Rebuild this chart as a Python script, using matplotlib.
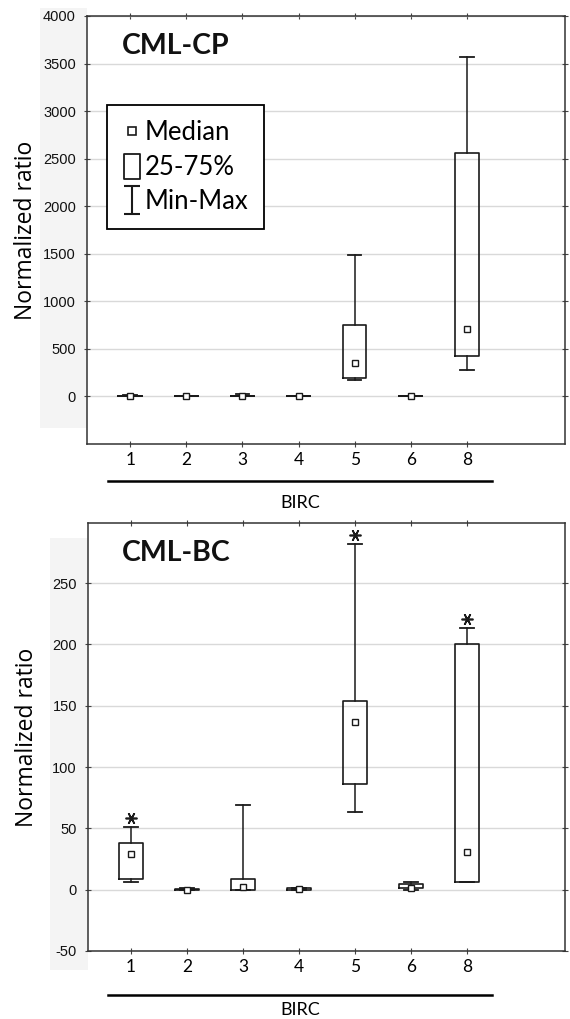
import matplotlib
matplotlib.use("Agg")
import matplotlib.pyplot as plt
import matplotlib.transforms as mtransforms
from matplotlib.path import Path
from matplotlib.lines import Line2D
from matplotlib.patches import Rectangle

# categories (BIRC family members)
birc = ["1", "2", "3", "4", "5", "6", "8"]

# CML-CP  (median, q1, q3, min, max)
cp_med = [2, 0, 3, 0, 349, 0, 713]
cp_q1 = [0, 0, 0, 0, 189, 0, 420]
cp_q3 = [8, 2, 8, 4, 748, 1, 2559]
cp_min = [0, 0, 0, 0, 171, 0, 276]
cp_max = [15, 3, 25, 6, 1489, 2, 3566]
cp_star = [False] * 7

# CML-BC
bc_med = [29, 0, 2, 0.5, 137, 1, 31]
bc_q1 = [9, 0, 0, 0, 86, 1, 6]
bc_q3 = [38, 0.5, 9, 1, 154, 5, 200]
bc_min = [6, 0, 0, 0, 63, 0, 6]
bc_max = [51, 1, 69, 1.5, 282, 6, 213]
bc_star = [True, False, False, False, True, False, True]

W, H = 570, 1019
fig = plt.figure(figsize=(W / 100, H / 100), dpi=100)

# faint grey band behind the y tick labels
fig.add_artist(Rectangle((40 / W, 1 - 428 / H), 47 / W, 420 / H, transform=fig.transFigure,
                         facecolor="#f4f4f4", edgecolor="none", zorder=0))
fig.add_artist(Rectangle((50 / W, 1 - 970 / H), 38 / W, 432 / H, transform=fig.transFigure,
                         facecolor="#f4f4f4", edgecolor="none", zorder=0))

cal = ["Lato", "DejaVu Sans"]
dark = "#1a1a1a"


def panel(rect, title, med, q1, q3, lo, hi, star, ylim, yticks, line_y, birc_y):
    ax = fig.add_axes(rect)
    stats = []
    for i in range(len(birc)):
        stats.append(dict(med=med[i], q1=q1[i], q3=q3[i], whislo=lo[i], whishi=hi[i],
                          mean=med[i], fliers=[]))
    pos = list(range(len(birc)))
    ax.bxp(stats, positions=pos, widths=0.42, capwidths=0.24, showmeans=True,
           showfliers=False, patch_artist=False,
           boxprops=dict(color=dark, linewidth=1.2),
           whiskerprops=dict(color=dark, linewidth=1.1),
           capprops=dict(color=dark, linewidth=1.3),
           medianprops=dict(linewidth=0),
           meanprops=dict(marker="s", markersize=5, markerfacecolor="white",
                          markeredgecolor=dark, markeredgewidth=1.0))
    # asterisks sitting on the max cap
    up = mtransforms.offset_copy(ax.transData, fig=fig, x=0, y=9, units="dots")
    for i in range(len(birc)):
        if star[i]:
            ax.plot(pos[i], hi[i], linestyle="none", marker=(6, 2, 90), markersize=8.5,
                    markeredgewidth=1.2, color=dark, transform=up, clip_on=False)

    ax.set_xlim(-0.77, 7.75)
    ax.set_ylim(*ylim)
    ax.set_yticks(yticks)
    ax.set_xticks(pos)
    ax.set_xticklabels(birc, family=cal, fontsize=12.5)
    ax.set_yticklabels([str(t) for t in yticks], family="Liberation Sans", fontsize=10.5,
                       color="#111111")
    ax.tick_params(axis="both", direction="inout", length=4, width=0.8, color="#444444",
                   top=True, right=True)
    ax.tick_params(axis="x", pad=4)
    ax.tick_params(axis="y", pad=6)
    ax.yaxis.grid(True, color="#d9d9d9", linewidth=1.0)
    ax.set_axisbelow(True)
    for s in ax.spines.values():
        s.set_color("#333333")
        s.set_linewidth(1.1)

    ax.set_ylabel("Normalized ratio", family=["Open Sans", "DejaVu Sans"], fontsize=16.5)
    ax.yaxis.set_label_coords(-0.103, 0.5)
    ax.text(0.072, 0.93, title, transform=ax.transAxes, ha="left", va="center",
            family=cal, fontsize=20.5, fontweight="bold", color="#111111")

    fig.add_artist(Line2D([108 / W, 492 / W], [1 - line_y / H, 1 - line_y / H],
                          transform=fig.transFigure, color="black", linewidth=1.8))
    fig.text(300 / W, 1 - birc_y / H, "BIRC", ha="center", va="center",
             family=cal, fontsize=13)
    return ax


ax1 = panel([87 / W, 1 - 444 / H, 478 / W, 428 / H], "CML-CP",
            cp_med, cp_q1, cp_q3, cp_min, cp_max, cp_star,
            (-500, 4000), [0, 500, 1000, 1500, 2000, 2500, 3000, 3500, 4000], 481, 503)

ax2 = panel([88 / W, 1 - 951 / H, 477 / W, 428 / H], "CML-BC",
            bc_med, bc_q1, bc_q3, bc_min, bc_max, bc_star,
            (-50, 299), [-50, 0, 50, 100, 150, 200, 250], 995, 1010)

# legend with box-plot style handles
box_path = Path([(-0.62, -1), (0.62, -1), (0.62, 1), (-0.62, 1), (-0.62, -1)],
                [Path.MOVETO, Path.LINETO, Path.LINETO, Path.LINETO, Path.CLOSEPOLY])
ibeam = Path([(-0.6, 1), (0.6, 1), (0, 1), (0, -1), (-0.6, -1), (0.6, -1)],
             [Path.MOVETO, Path.LINETO, Path.MOVETO, Path.LINETO, Path.MOVETO, Path.LINETO])
handles = [
    Line2D([], [], linestyle="none", marker="s", markersize=5.5, markerfacecolor="white",
           markeredgecolor=dark, markeredgewidth=1.2),
    Line2D([], [], linestyle="none", marker=box_path, markersize=18, markerfacecolor="white",
           markeredgecolor=dark, markeredgewidth=1.3),
    Line2D([], [], linestyle="none", marker=ibeam, markersize=20, markerfacecolor="none",
           markeredgecolor=dark, markeredgewidth=1.5),
]
leg = ax1.legend(handles, ["Median", "25-75%", "Min-Max"], loc="upper left",
                 bbox_to_anchor=(0.042, 0.792), prop=dict(family=cal, size=18.5),
                 fancybox=False, edgecolor="black", framealpha=1, handlelength=0.75,
                 handletextpad=0.15, labelspacing=0.38, borderpad=0.58, borderaxespad=0)
leg.get_frame().set_linewidth(1.3)

fig.savefig("out.png", dpi=100)
